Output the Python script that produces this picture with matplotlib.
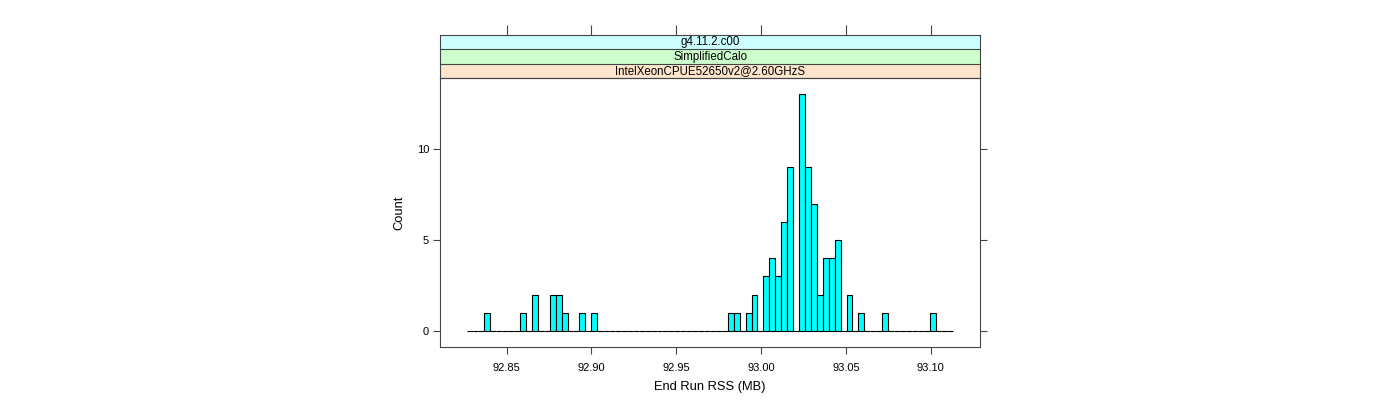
import numpy as np
import matplotlib
matplotlib.use('agg')
import matplotlib.pyplot as plt

plt.rcParams['font.family'] = ['Liberation Sans', 'DejaVu Sans']

# histogram breaks (MB) and counts per bin
break_lo = 92.8264
break_hi = 93.1134
counts = [0, 0, 0, 1, 0, 0, 0, 0, 0, 1,
          0, 2, 0, 0, 2, 2, 1, 0, 0, 1,
          0, 1, 0, 0, 0, 0, 0, 0, 0, 0,
          0, 0, 0, 0, 0, 0, 0, 0, 0, 0,
          0, 0, 0, 0, 1, 1, 0, 1, 2, 0,
          3, 4, 3, 6, 9, 0, 13, 9, 7, 2,
          4, 4, 5, 0, 2, 0, 1, 0, 0, 0,
          1, 0, 0, 0, 0, 0, 0, 0, 1, 0,
          0, 0]
xticks = [92.85, 92.90, 92.95, 93.00, 93.05, 93.10]
yticks = [0, 5, 10]
strips = ["IntelXeonCPUE52650v2@2.60GHzS", "SimplifiedCalo", "g4.11.2.c00"]
strip_colors = ["#ffe5cc", "#ccffcc", "#ccffff"]

XLIM = (92.8109, 93.1291)
YLIM = (-0.9, 13.88)
FRAME = '#444444'


def main():
    fig = plt.figure(figsize=(14, 4), dpi=100)
    ax = fig.add_axes([0.3145, 0.13175, 0.3855, 0.6725])
    sax = fig.add_axes([0.3145, 0.80425, 0.3855, 0.10825])

    breaks = np.linspace(break_lo, break_hi, len(counts) + 1)
    ax.bar(breaks[:-1], counts, width=np.diff(breaks), align='edge',
           color='#00ffff', edgecolor='black', linewidth=0.8)

    ax.set_xlim(*XLIM)
    ax.set_ylim(*YLIM)
    ax.set_xticks(xticks)
    ax.set_xticklabels(["%.2f" % v for v in xticks])
    ax.set_yticks(yticks)
    ax.tick_params(axis='both', direction='out', length=5, width=0.8,
                   color=FRAME, labelsize=8, pad=3)
    ax.tick_params(axis='y', right=True, labelright=False)
    ax.tick_params(axis='x', pad=6)
    for s in ax.spines.values():
        s.set_color(FRAME)
        s.set_linewidth(0.8)
    ax.set_xlabel("End Run RSS (MB)", fontsize=9.3, labelpad=6)
    ax.set_ylabel("Count", fontsize=9.3, labelpad=8)

    # strips
    sax.set_xlim(*XLIM)
    sax.set_ylim(0, 3)
    for i, (txt, col) in enumerate(zip(strips, strip_colors)):
        sax.axhspan(i, i + 1, color=col, zorder=0)
        sax.axhline(i, color=FRAME, linewidth=0.8)
        sax.text(np.mean(XLIM), i + 0.5, txt, ha='center', va='center',
                 fontsize=8.3)
    sax.set_yticks([])
    sax.set_xticks(xticks)
    sax.tick_params(axis='x', bottom=False, labelbottom=False, top=True,
                    direction='out', length=7, width=0.8, color=FRAME)
    for s in sax.spines.values():
        s.set_color(FRAME)
        s.set_linewidth(0.8)

    fig.savefig("out.png", dpi=100)


if __name__ == "__main__":
    main()
